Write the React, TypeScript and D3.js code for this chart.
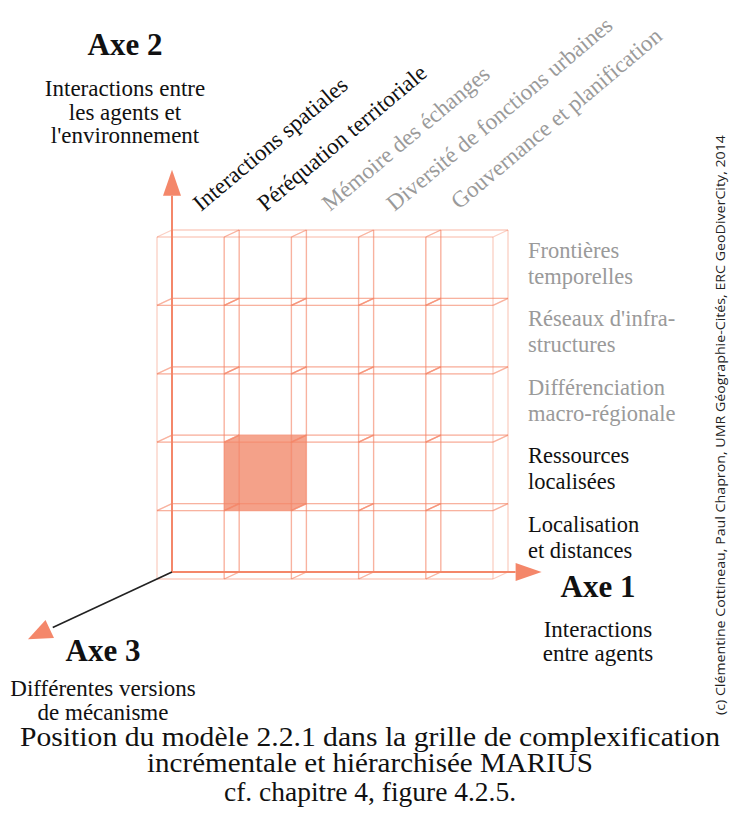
import { useEffect, useRef } from 'react';
import * as d3 from 'd3';

// Axe 1 (columns) and Axe 2 (rows, bottom to top)
const columns = [
  'Interactions spatiales',
  'Péréquation territoriale',
  'Mémoire des échanges',
  'Diversité de fonctions urbaines',
  'Gouvernance et planification',
];
const columnActive = [true, true, false, false, false];

const rows = [
  ['Localisation', 'et distances'],
  ['Ressources', 'localisées'],
  ['Différenciation', 'macro-régionale'],
  ["Réseaux d'infra-", 'structures'],
  ['Frontières', 'temporelles'],
];
const rowActive = [true, true, false, false, false];

// position of model 2.2.1 in the grid (column, row)
const highlighted = [[1, 1]];

const axisTitles = ['Axe 1', 'Axe 2', 'Axe 3'];
const axisSubtitles = [
  ['Interactions', 'entre agents'],
  ['Interactions entre', 'les agents et', "l'environnement"],
  ['Différentes versions', 'de mécanisme'],
];

const captionLines = [
  'Position du modèle 2.2.1 dans la grille de complexification',
  'incrémentale et hiérarchisée MARIUS',
  'cf. chapitre 4, figure 4.2.5.',
];
const credit = '(c) Clémentine Cottineau, Paul Chapron, UMR Géographie-Cités, ERC GeoDiverCity, 2014';

const SALMON = '#f4876a';
const SERIF = '"Liberation Serif", "DejaVu Serif", serif';

export default function App() {
  const svgRef = useRef<SVGSVGElement>(null);

  useEffect(() => {
    if (!svgRef.current) return;
    const svg = d3.select(svgRef.current);
    svg.selectAll('*').remove();

    const width = 731;
    const height = 813;
    svg.attr('width', width).attr('height', height);

    // back plane scales (axis plane), depth goes towards the viewer
    const x = d3.scaleLinear().domain([0, 5]).range([172, 508]);
    const y = d3.scaleLinear().domain([0, 5]).range([572, 230]);
    const zx = d3.scaleLinear().domain([0, 1]).range([0, -15]);
    const zy = d3.scaleLinear().domain([0, 1]).range([0, 7]);
    const P = (c: number, r: number, z: number): [number, number] => [x(c) + zx(z), y(r) + zy(z)];

    const g = svg.append('g');

    // highlighted cube (filled hull)
    highlighted.forEach(([c, r]) => {
      const hull = [
        P(c, r, 1), P(c, r + 1, 1), P(c, r + 1, 0),
        P(c + 1, r + 1, 0), P(c + 1, r, 0), P(c + 1, r, 1),
      ];
      g.append('path')
        .attr('d', d3.line()(hull) + 'Z')
        .attr('fill', '#f5a58e');
      g.append('rect')
        .attr('x', P(c, r + 1, 1)[0])
        .attr('y', P(c, r + 1, 1)[1])
        .attr('width', x(c + 1) - x(c))
        .attr('height', y(r) - y(r + 1))
        .attr('fill', '#f39d84')
        .attr('opacity', 0.5);
    });

    // wireframe cubes
    const edges: [number, number, number][][] = [];
    for (let c = 0; c < columns.length; c++) {
      for (let r = 0; r < rows.length; r++) {
        for (const z of [0, 1]) {
          edges.push([[c, r, z], [c + 1, r, z]]);
          edges.push([[c, r + 1, z], [c + 1, r + 1, z]]);
          edges.push([[c, r, z], [c, r + 1, z]]);
          edges.push([[c + 1, r, z], [c + 1, r + 1, z]]);
        }
        edges.push([[c, r, 0], [c, r, 1]]);
        edges.push([[c + 1, r, 0], [c + 1, r, 1]]);
        edges.push([[c, r + 1, 0], [c, r + 1, 1]]);
        edges.push([[c + 1, r + 1, 0], [c + 1, r + 1, 1]]);
      }
    }
    g.selectAll('.edge')
      .data(edges)
      .enter()
      .append('line')
      .attr('class', 'edge')
      .attr('x1', (d) => P(...d[0])[0])
      .attr('y1', (d) => P(...d[0])[1])
      .attr('x2', (d) => P(...d[1])[0])
      .attr('y2', (d) => P(...d[1])[1])
      .attr('stroke', SALMON)
      .attr('stroke-opacity', 0.4)
      .attr('stroke-width', 1.3);

    // axes
    const origin = P(0, 0, 0);
    const tip1 = P(5.5, 0, 0);
    const tip2 = P(0, 5.88, 0);
    const tip3 = P(0, 0, 9.6);
    const arrow = (tip: [number, number], from: [number, number], len: number, half: number) => {
      const dx = tip[0] - from[0];
      const dy = tip[1] - from[1];
      const L = Math.hypot(dx, dy);
      const ux = dx / L;
      const uy = dy / L;
      const bx = tip[0] - ux * len;
      const by = tip[1] - uy * len;
      const pts: [number, number][] = [
        tip,
        [bx - uy * half, by + ux * half],
        [bx + uy * half, by - ux * half],
      ];
      g.append('path').attr('d', d3.line()(pts) + 'Z').attr('fill', SALMON);
      return [bx, by] as [number, number];
    };
    const b1 = arrow(tip1, origin, 26, 9);
    const b2 = arrow(tip2, origin, 26, 9);
    const b3 = arrow(tip3, origin, 24, 10);
    g.append('line').attr('x1', origin[0]).attr('y1', origin[1]).attr('x2', b1[0]).attr('y2', b1[1])
      .attr('stroke', SALMON).attr('stroke-width', 2);
    g.append('line').attr('x1', origin[0]).attr('y1', origin[1]).attr('x2', b2[0]).attr('y2', b2[1])
      .attr('stroke', SALMON).attr('stroke-width', 2);
    g.append('line').attr('x1', origin[0]).attr('y1', origin[1]).attr('x2', b3[0] + 3).attr('y2', b3[1] - 1.5)
      .attr('stroke', '#222').attr('stroke-width', 1.6);

    // column labels (rotated)
    const labelX = d3.scaleLinear().domain([0, columns.length - 1]).range([201, 459]);
    g.selectAll('.col-label')
      .data(columns)
      .enter()
      .append('text')
      .attr('class', 'col-label')
      .attr('transform', (_d, i) => `translate(${labelX(i)},${212 - (i === 4 ? 2 : 0)}) rotate(-40)`)
      .attr('font-family', SERIF)
      .attr('font-size', 23)
      .attr('fill', (_d, i) => (columnActive[i] ? '#111' : '#9a9a9a'))
      .text((d) => d);

    // row labels
    rows.forEach((lines, r) => {
      const top = P(0, r + 1, 1)[1];
      lines.forEach((line, k) => {
        g.append('text')
          .attr('x', 528)
          .attr('y', top + 21 + k * 26)
          .attr('font-family', SERIF)
          .attr('font-size', 22.5)
          .attr('fill', rowActive[r] ? '#111' : '#9a9a9a')
          .text(line);
      });
    });

    // axis titles
    const titlePos: { x: number; y: number; sub: number }[] = [
      { x: 598, y: 597, sub: 637 },
      { x: 125, y: 55, sub: 96 },
      { x: 103, y: 661, sub: 696 },
    ];
    axisTitles.forEach((t, i) => {
      const p = titlePos[i];
      g.append('text')
        .attr('x', p.x)
        .attr('y', p.y)
        .attr('text-anchor', 'middle')
        .attr('font-family', SERIF)
        .attr('font-weight', 'bold')
        .attr('font-size', 31)
        .attr('fill', '#111')
        .text(t);
      axisSubtitles[i].forEach((line, k) => {
        g.append('text')
          .attr('x', p.x)
          .attr('y', p.sub + k * 23.5)
          .attr('text-anchor', 'middle')
          .attr('font-family', SERIF)
          .attr('font-size', 23)
          .attr('fill', '#111')
          .text(line);
      });
    });

    // caption
    const captionWidths = [700, 446, 292];
    const captionY = [746, 772, 801];
    captionLines.forEach((line, i) => {
      g.append('text')
        .attr('x', 370 - captionWidths[i] / 2)
        .attr('y', captionY[i])
        .attr('font-family', SERIF)
        .attr('font-size', 28)
        .attr('fill', '#111')
        .attr('textLength', captionWidths[i])
        .attr('lengthAdjust', 'spacingAndGlyphs')
        .text(line);
    });

    // credit
    g.append('text')
      .attr('transform', 'translate(725,715) rotate(-90)')
      .attr('font-family', '"Open Sans", "DejaVu Sans", sans-serif')
      .attr('font-size', 12.5)
      .attr('fill', '#222')
      .attr('textLength', 580)
      .attr('lengthAdjust', 'spacingAndGlyphs')
      .text(credit);
  }, []);

  return (
    <svg
      ref={svgRef}
      style={{ position: 'absolute', left: 0, top: 0, background: '#fff' }}
    />
  );
}
